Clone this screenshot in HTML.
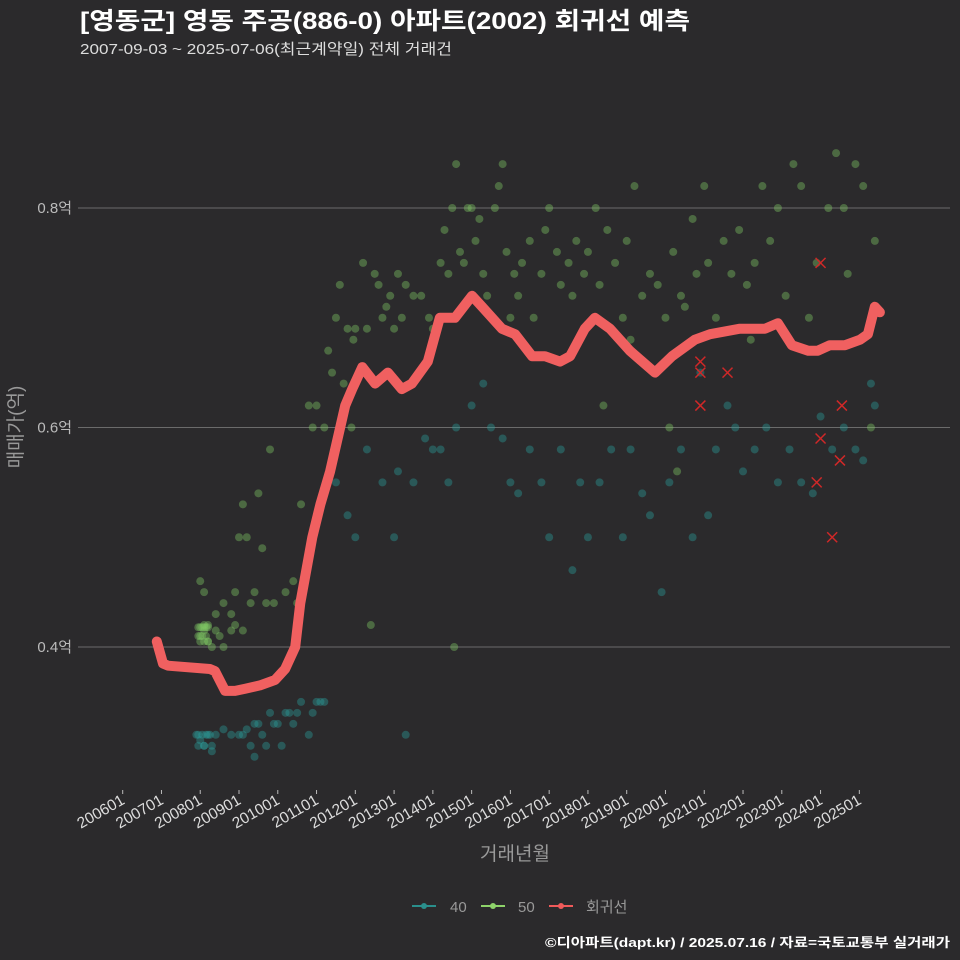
<!DOCTYPE html>
<html><head><meta charset="utf-8">
<style>
body{margin:0;background:#2b2a2c;}
svg{display:block;font-family:"Liberation Sans","Noto Sans CJK KR",sans-serif;}
</style></head>
<body>
<svg id="chart" width="960" height="960" viewBox="0 0 960 960">
<rect width="960" height="960" fill="#2b2a2c"/>
<text x="80" y="29" fill="#ffffff" font-size="24" font-weight="bold" textLength="610" lengthAdjust="spacingAndGlyphs">[영동군] 영동 주공(886-0) 아파트(2002) 회귀선 예측</text>
<text x="80" y="54" fill="#dddddd" font-size="15" textLength="372" lengthAdjust="spacingAndGlyphs">2007-09-03 ~ 2025-07-06(최근계약일) 전체 거래건</text>
<g id="grid"></g>
<g id="ylabels"></g>
<g id="xaxis"></g>
<g id="pts40"></g>
<g id="pts50"></g>
<g id="reg"></g>
<g id="xmarks"></g>
<text transform="translate(22,427) rotate(-90)" text-anchor="middle" fill="#999999" font-size="19">매매가(억)</text>
<text x="515" y="860" text-anchor="middle" fill="#999999" font-size="19">거래년월</text>
<g>
<g><line x1="412" y1="906" x2="436" y2="906" stroke="#2a8f8c" stroke-width="2"/><circle cx="424" cy="906" r="3" fill="#2a8f8c"/><text x="450" y="912" fill="#999" font-size="15">40</text></g>
<g><line x1="481" y1="906" x2="505" y2="906" stroke="#8ed36a" stroke-width="2"/><circle cx="493" cy="906" r="3" fill="#8ed36a"/><text x="518" y="912" fill="#999" font-size="15">50</text></g>
<g><line x1="549" y1="906" x2="573" y2="906" stroke="#f05a5a" stroke-width="2"/><circle cx="561" cy="906" r="3" fill="#f05a5a"/><text x="586" y="912" fill="#999" font-size="15">회귀선</text></g>
</g>
<text x="950" y="947" text-anchor="end" fill="#ffffff" font-size="13" font-weight="bold" textLength="405" lengthAdjust="spacingAndGlyphs">©디아파트(dapt.kr) / 2025.07.16 / 자료=국토교통부 실거래가</text>
</svg>
<script>
const yTicks=[0.4,0.6,0.8];
const yTickLabels=["0.4억","0.6억","0.8억"];
const xTickYears=[2006,2007,2008,2009,2010,2011,2012,2013,2014,2015,2016,2017,2018,2019,2020,2021,2022,2023,2024,2025];
const xTickLabels=["200601","200701","200801","200901","201001","201101","201201","201301","201401","201501","201601","201701","201801","201901","202001","202101","202201","202301","202401","202501"];
const s50t=[2008.1,2008.0,2008.2,2008.3,2008.4,2008.1,2008.2,2008.5,2008.6,2008.8,2008.9,2009.1,2008.0,2008.1,2008.4,2008.6,2008.8,2008.9,2009.0,2009.1,2009.2,2009.3,2009.4,2009.5,2009.6,2009.7,2009.8,2009.9,2010.2,2010.4,2010.5,2010.6,2010.8,2010.9,2011.0,2011.2,2011.3,2011.4,2011.5,2011.6,2011.7,2011.8,2011.9,2011.95,2012.0,2012.1,2012.2,2012.3,2012.4,2012.5,2012.6,2012.7,2012.8,2012.9,2013.0,2013.1,2013.2,2013.3,2013.5,2013.7,2013.9,2014.0,2014.2,2014.3,2014.4,2014.5,2014.55,2014.6,2014.7,2014.8,2014.9,2015.0,2015.1,2015.2,2015.3,2015.4,2015.6,2015.7,2015.8,2015.9,2016.0,2016.1,2016.2,2016.3,2016.5,2016.6,2016.8,2016.9,2017.0,2017.2,2017.3,2017.5,2017.6,2017.7,2017.9,2018.0,2018.2,2018.3,2018.5,2018.7,2018.9,2019.0,2019.2,2019.4,2019.6,2019.8,2020.0,2020.2,2020.4,2020.5,2020.7,2020.8,2021.0,2021.1,2021.3,2021.5,2021.7,2021.9,2022.1,2022.3,2022.5,2022.7,2022.9,2023.1,2023.3,2023.5,2023.7,2023.9,2024.2,2024.4,2024.6,2024.7,2024.9,2025.1,2025.3,2025.4,2020.1,2020.3,2022.2,2019.1,2018.4,2007.95,2008.0,2008.05,2008.1,2008.15,2008.2,2007.95,2008.05,2008.15,2008.0,2008.1,2008.2];
const s50v=[.415,.41,.405,.40,.415,.42,.42,.41,.40,.415,.42,.415,.46,.45,.43,.44,.43,.45,.50,.53,.50,.44,.45,.54,.49,.44,.58,.44,.45,.46,.44,.53,.62,.60,.62,.60,.67,.65,.70,.73,.64,.69,.60,.68,.69,.65,.75,.69,.42,.74,.73,.70,.71,.72,.69,.74,.70,.73,.72,.72,.70,.69,.75,.78,.74,.80,.40,.84,.76,.75,.80,.80,.77,.79,.74,.72,.80,.82,.84,.76,.70,.74,.72,.75,.77,.70,.74,.78,.80,.76,.73,.75,.72,.77,.74,.76,.80,.73,.78,.75,.70,.77,.82,.72,.74,.73,.70,.76,.72,.71,.79,.74,.82,.75,.70,.77,.74,.78,.73,.75,.82,.77,.80,.72,.84,.82,.70,.75,.80,.85,.80,.74,.84,.82,.60,.77,.60,.56,.68,.68,.62,.418,.418,.418,.418,.418,.418,.41,.41,.41,.405,.405,.405];
const s40t=[2008.0,2008.1,2008.2,2008.3,2008.4,2008.6,2008.8,2009.0,2009.2,2009.3,2009.5,2009.6,2009.8,2010.0,2010.2,2010.4,2010.6,2010.8,2011.0,2011.2,2009.4,2009.7,2010.1,2011.5,2011.8,2012.0,2012.3,2012.7,2013.0,2013.1,2013.3,2013.5,2013.8,2014.0,2014.2,2014.4,2014.6,2015.0,2015.3,2015.5,2015.8,2016.0,2016.2,2016.5,2016.8,2017.0,2017.3,2017.6,2017.8,2018.0,2018.3,2018.6,2018.9,2019.1,2019.4,2019.6,2019.9,2020.1,2020.4,2020.7,2020.9,2021.1,2021.3,2021.6,2021.8,2022.0,2022.3,2022.6,2022.9,2023.2,2023.5,2023.8,2024.0,2024.3,2024.6,2024.9,2025.1,2025.3,2025.4,2007.9,2007.95,2008.05,2008.15,2008.25,2007.95,2008.1,2008.3,2009.1,2009.4,2009.9,2010.3,2010.5,2010.9,2011.1];
const s40v=[.315,.31,.32,.305,.32,.325,.32,.32,.325,.31,.33,.32,.34,.33,.34,.33,.35,.32,.35,.35,.30,.31,.31,.55,.52,.50,.58,.55,.50,.56,.32,.55,.59,.58,.58,.55,.60,.62,.64,.60,.59,.55,.54,.58,.55,.50,.58,.47,.55,.50,.55,.58,.50,.58,.54,.52,.45,.55,.58,.50,.65,.52,.58,.62,.60,.56,.58,.60,.55,.58,.55,.54,.61,.58,.60,.58,.57,.64,.62,.32,.32,.32,.32,.32,.31,.31,.31,.32,.33,.33,.34,.34,.34,.35];
const regT=[2006.88,2007.04,2007.17,2008.25,2008.38,2008.64,2008.90,2009.16,2009.54,2009.93,2010.19,2010.45,2010.58,2010.89,2011.10,2011.35,2011.74,2011.92,2012.18,2012.51,2012.84,2013.20,2013.46,2013.87,2014.18,2014.57,2015.01,2015.27,2015.78,2016.12,2016.56,2016.89,2017.28,2017.54,2017.92,2018.18,2018.57,2019.08,2019.73,2020.17,2020.76,2021.15,2021.92,2022.57,2022.90,2023.26,2023.68,2023.93,2024.24,2024.63,2025.02,2025.22,2025.40,2025.53];
const regV=[.405,.385,.383,.38,.378,.36,.36,.362,.365,.37,.38,.40,.44,.50,.53,.56,.62,.635,.655,.64,.65,.635,.64,.66,.70,.70,.72,.71,.69,.685,.665,.665,.66,.665,.69,.70,.69,.67,.65,.665,.68,.685,.69,.69,.695,.675,.67,.67,.675,.675,.68,.685,.71,.705];
const xmT=[2020.9,2020.9,2020.9,2021.6,2023.9,2024.0,2024.0,2024.3,2024.5,2024.55];
const xmV=[.65,.66,.62,.65,.55,.59,.75,.50,.57,.62];

const NS="http://www.w3.org/2000/svg";
const X=t=>122.7+(t-2006)*38.77;
const Y=v=>647-(v-0.4)*1097.5;
function mk(tag,attrs,parent){const e=document.createElementNS(NS,tag);for(const k in attrs)e.setAttribute(k,attrs[k]);document.getElementById(parent).appendChild(e);return e;}
yTicks.forEach((v,i)=>{
  const l=mk('line',{x1:78,x2:950,y1:Y(v),y2:Y(v),stroke:'#6b6b6b','stroke-width':1},'grid');
  
  
  const t=mk('text',{x:72,y:Y(v)+5,'text-anchor':'end',fill:'#bbbbbb','font-size':15},'ylabels');
  t.textContent=yTickLabels[i];
  
  
});
xTickYears.forEach((yr,i)=>{
  const x=X(yr);
  const tk=mk('line',{x1:x,x2:x,y1:790,y2:794,stroke:'#bbbbbb'},'xaxis');
  
  
  const t=mk('text',{x:x+3,y:803,'text-anchor':'end',fill:'#dddddd','font-size':15.5,transform:`rotate(-30 ${x+3} 803)`},'xaxis');
  t.textContent=xTickLabels[i];
  
  
});
s40t.forEach((t,i)=>{
  const c=mk('circle',{cx:X(t),cy:Y(s40v[i]),r:4,fill:'#2a9d9a','fill-opacity':0.4},'pts40');
  
  
});
s50t.forEach((t,i)=>{
  const c=mk('circle',{cx:X(t),cy:Y(s50v[i]),r:4,fill:'#7fc763','fill-opacity':0.4},'pts50');
  
  
});
const d=regT.map((t,i)=>(i?'L':'M')+X(t).toFixed(1)+','+Y(regV[i]).toFixed(1)).join(' ');
const p=mk('path',{d:d,fill:'none',stroke:'#f06060','stroke-width':10,'stroke-linejoin':'round','stroke-linecap':'round'},'reg');


xmT.forEach((t,i)=>{
  const x=X(t),y=Y(xmV[i]);
  const g=mk('path',{d:`M${x-5},${y-5}L${x+5},${y+5}M${x-5},${y+5}L${x+5},${y-5}`,stroke:'#d02828','stroke-width':1.5},'xmarks');
  
  
});
</script>
</body></html>
